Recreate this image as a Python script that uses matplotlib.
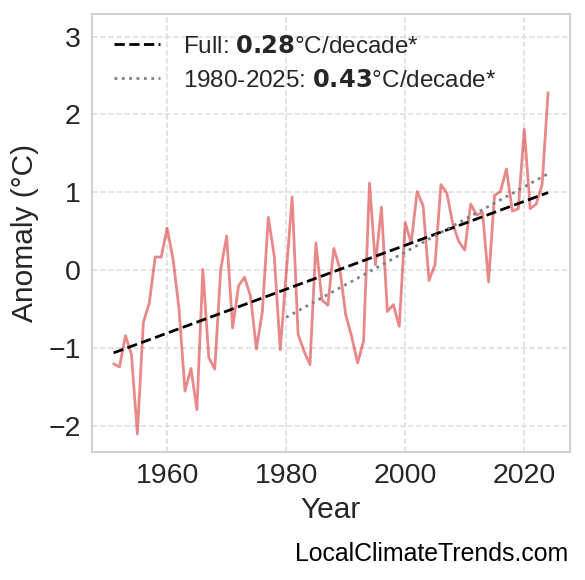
import numpy as np
from matplotlib import pyplot as plt

# yearly anomaly values (1951-2024)
years = np.arange(1951, 2025)
anomaly = [-1.20, -1.24, -0.84, -1.08, -2.10, -0.67, -0.42, 0.17, 0.17, 0.54,
           0.14, -0.50, -1.55, -1.26, -1.79, 0.01, -1.12, -1.27, 0.01, 0.44,
           -0.74, -0.20, -0.09, -0.33, -1.01, -0.53, 0.68, 0.18, -1.02, -0.05,
           0.94, -0.82, -1.04, -1.21, 0.35, -0.38, -0.45, 0.28, 0.03, -0.57,
           -0.85, -1.19, -0.91, 1.12, 0.07, 0.81, -0.53, -0.44, -0.72, 0.61,
           0.35, 1.01, 0.83, -0.13, 0.07, 1.10, 0.99, 0.59, 0.37, 0.26,
           0.85, 0.71, 0.74, -0.15, 0.96, 1.01, 1.30, 0.76, 0.79, 1.81,
           0.79, 0.85, 1.10, 2.28]
recent_start = 1980
full_rate = '0.28'
recent_rate = '0.43'

plt.style.use('seaborn-v0_8-whitegrid')
plt.rcParams['font.family'] = ['Liberation Sans', 'DejaVu Sans']
plt.rcParams['text.color'] = '#262626'
plt.rcParams['axes.labelcolor'] = '#262626'
plt.rcParams['xtick.color'] = '#262626'
plt.rcParams['ytick.color'] = '#262626'

anomaly = np.array(anomaly)

fig, ax = plt.subplots(figsize=(5.85, 5.8), dpi=100)
fig.subplots_adjust(left=0.157, right=0.974, top=0.976, bottom=0.221)

ax.plot(years, anomaly, color='#d62728', alpha=0.55, lw=2.0)

# linear trends
p_full = np.polyfit(years, anomaly, 1)
ax.plot(years, np.polyval(p_full, years), '--', color='black', lw=2.0,
        label=f'Full: $\\mathbf{{{full_rate}}}$°C/decade*')
mask = years >= recent_start
p_rec = np.polyfit(years[mask], anomaly[mask], 1)
ax.plot(years[mask], np.polyval(p_rec, years[mask]), ':', color='gray', lw=2.0,
        label=f'{recent_start}-2025: $\\mathbf{{{recent_rate}}}$°C/decade*')

ax.set_ylim(-2.33, 3.29)
ax.set_yticks([-2, -1, 0, 1, 2, 3])
ax.set_xticks([1960, 1980, 2000, 2020])
ax.tick_params(labelsize=20.5, pad=8)
ax.grid(True, linestyle='--', color='#dddddd', lw=1.1)
for s in ax.spines.values():
    s.set_color('#cccccc')
    s.set_linewidth(1.3)
ax.set_xlabel('Year', fontsize=21.5, labelpad=5)
ax.set_ylabel('Anomaly (°C)', fontsize=21.5, labelpad=7)
ax.legend(loc='upper left', fontsize=17.5, frameon=False, handletextpad=0.95,
          handlelength=1.9)

fig.text(0.971, 0.033, 'LocalClimateTrends.com', ha='right', va='baseline',
         fontsize=17.9, color='black')

fig.savefig('out.png', dpi=100)
